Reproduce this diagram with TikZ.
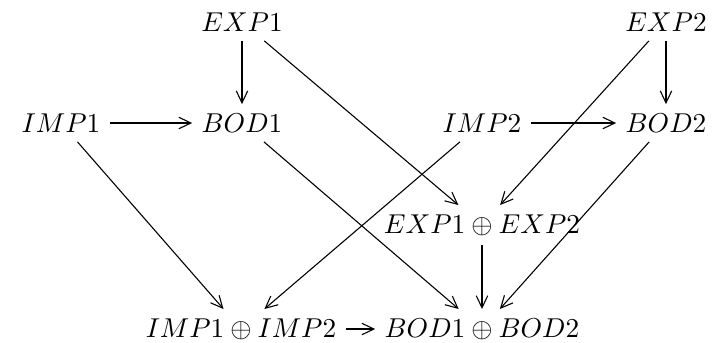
\documentclass[tikz,border=0pt]{standalone}
\usetikzlibrary{arrows.meta}
\begin{document}
\begin{tikzpicture}[x=0.3665pt,y=-0.3665pt,
  obj/.style={inner sep=3.3pt},
  map/.style={-{Straight Barb[length=4.4pt,width=4.2pt,line width=0.4pt]}, line width=0.4pt}]
\useasboundingbox (0,0) rectangle (722,342);
% objects
\node[obj] (exp1) at (242,22)  {$EXP1$};
\node[obj] (exp2) at (666,22)  {$EXP2$};
\node[obj] (imp1) at (61,123)  {$IMP1$};
\node[obj] (bod1) at (242,123) {$BOD1$};
\node[obj] (imp2) at (482,123) {$IMP2$};
\node[obj] (bod2) at (666,123) {$BOD2$};
\node[obj] (expsum) at (482,225) {$EXP1\oplus EXP2$};
\node[obj] (impsum) at (241,329) {$IMP1\oplus IMP2$};
\node[obj] (bodsum) at (482,329) {$BOD1\oplus BOD2$};
% morphisms
\draw[map] (exp1) -- (bod1);
\draw[map] (exp1) -- (expsum);
\draw[map] (exp2) -- (bod2);
\draw[map] (exp2) -- (expsum);
\draw[map] (imp1) -- (bod1);
\draw[map] (imp1) -- (impsum);
\draw[map] (imp2) -- (bod2);
\draw[map] (imp2) -- (impsum);
\draw[map] (bod1) -- (bodsum);
\draw[map] (bod2) -- (bodsum);
\draw[map] (expsum) -- (bodsum);
\draw[map] (impsum) -- (bodsum);
\end{tikzpicture}
\end{document}
